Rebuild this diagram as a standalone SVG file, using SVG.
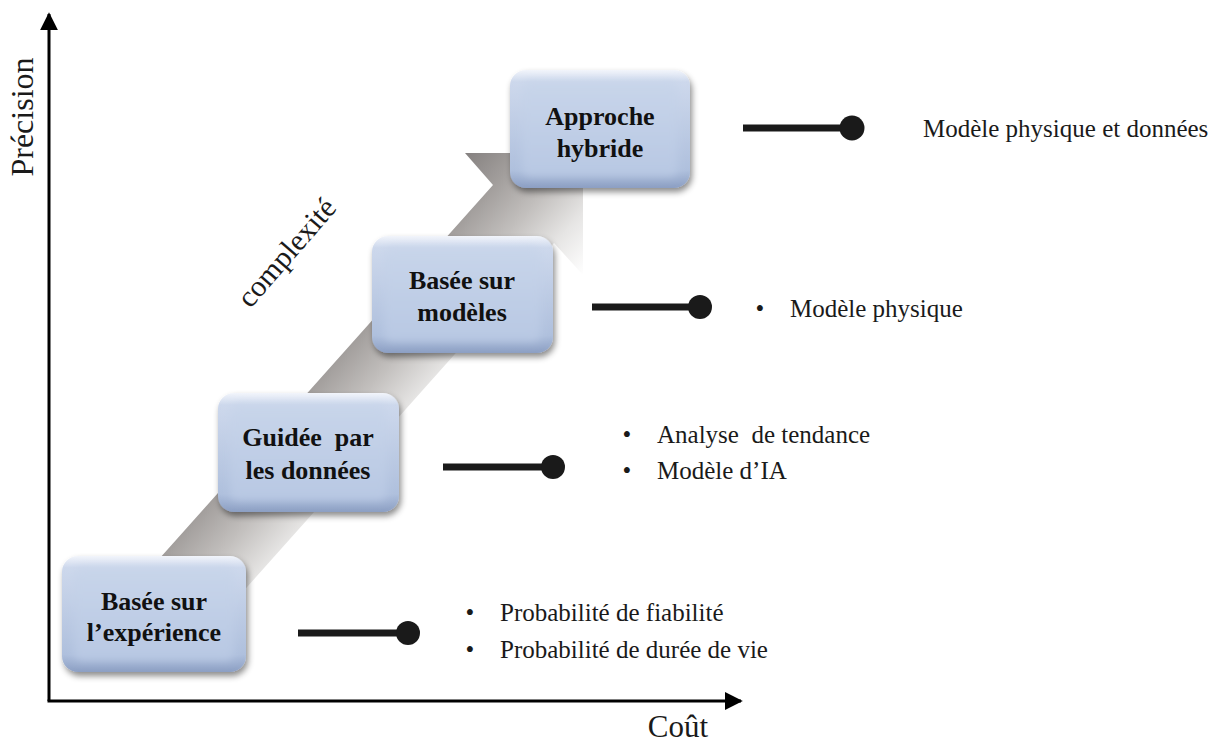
<svg xmlns="http://www.w3.org/2000/svg" width="1229" height="743" viewBox="0 0 1229 743">
<defs>
  <linearGradient id="bandGrad" gradientUnits="userSpaceOnUse" x1="462" y1="157" x2="588" y2="270">
    <stop offset="0" stop-color="#858180"/>
    <stop offset="0.25" stop-color="#a29e9c"/>
    <stop offset="0.5" stop-color="#c2bfbd"/>
    <stop offset="0.75" stop-color="#e6e5e4"/>
    <stop offset="1" stop-color="#ffffff"/>
  </linearGradient>
  <linearGradient id="bevelGrad" x1="0" y1="0" x2="0" y2="1">
    <stop offset="0" stop-color="#f2f5fb"/>
    <stop offset="0.1" stop-color="#cdd8ec"/>
    <stop offset="0.85" stop-color="#afc0dd"/>
    <stop offset="1" stop-color="#8c9fc3"/>
  </linearGradient>
  <linearGradient id="faceGrad" x1="0" y1="0" x2="0" y2="1">
    <stop offset="0" stop-color="#c8d5ea"/>
    <stop offset="1" stop-color="#b8c8e3"/>
  </linearGradient>
  <filter id="shadow" x="-10%" y="-10%" width="125%" height="130%">
    <feDropShadow dx="2" dy="4" stdDeviation="3" flood-color="#000" flood-opacity="0.45"/>
  </filter>
  <filter id="soft" x="-10%" y="-10%" width="120%" height="120%">
    <feGaussianBlur stdDeviation="4"/>
  </filter>
  <marker id="axisArrow" viewBox="0 0 10 10" refX="9" refY="5" markerWidth="6" markerHeight="6" markerUnits="strokeWidth" orient="auto">
    <path d="M0,0 L10,5 L0,10 z" fill="#000"/>
  </marker>
  <style>
    .box { fill: url(#bevelGrad); filter: url(#shadow); }
    .face { fill: url(#faceGrad); filter: url(#soft); }
    .boxtxt { font-family: "Liberation Serif", "Times New Roman", serif; font-weight: bold; font-size: 26px; fill: #111; text-anchor: middle; }
    .lbl { font-family: "Liberation Serif", "Times New Roman", serif; font-size: 25px; fill: #1a1a1a; }
    .axislbl { font-family: "Liberation Serif", "Times New Roman", serif; font-size: 32px; fill: #1a1a1a; }
    .axis { stroke: #000; stroke-width: 3; fill: none; }
    .conn { stroke: #1a1a1a; stroke-width: 7; fill: none; }
    .dot { fill: #1a1a1a; }
  </style>
</defs>
<rect width="1229" height="743" fill="#ffffff"/>

<g id="progression-arrow">
  <polygon points="583,153 465,153 493,185 113.5,610 191,650 554,243 583,275" fill="url(#bandGrad)"/>
  <text class="axislbl" style="font-size:30px" x="294" y="259" text-anchor="middle" transform="rotate(-49 294 259)">complexité</text>
</g>

<g id="axes">
  <line class="axis" x1="49" y1="701" x2="49" y2="14" marker-end="url(#axisArrow)"/>
  <line class="axis" x1="47.5" y1="701" x2="741" y2="701" marker-end="url(#axisArrow)"/>
  <text class="axislbl" x="33" y="117" text-anchor="middle" transform="rotate(-90 33 117)">Précision</text>
  <text class="axislbl" x="678" y="737" text-anchor="middle" style="font-size:31px">Coût</text>
</g>

<g id="node-experience">
  <rect class="box" x="62" y="556" width="184" height="116" rx="16"/>
  <rect class="face" x="74" y="568" width="160" height="92" rx="8"/>
  <text class="boxtxt" x="154" y="610">Basée sur</text>
  <text class="boxtxt" x="154" y="641">l’expérience</text>
</g>

<g id="node-donnees">
  <rect class="box" x="218" y="393" width="181" height="119" rx="16"/>
  <rect class="face" x="230" y="405" width="157" height="95" rx="8"/>
  <text class="boxtxt" x="308" y="446" xml:space="preserve">Guidée  par</text>
  <text class="boxtxt" x="308" y="479">les données</text>
</g>

<g id="node-modeles">
  <rect class="box" x="372" y="236" width="181" height="117" rx="16"/>
  <rect class="face" x="384" y="248" width="157" height="93" rx="8"/>
  <text class="boxtxt" x="462" y="289">Basée sur</text>
  <text class="boxtxt" x="462" y="321">modèles</text>
</g>

<g id="node-hybride">
  <rect class="box" x="510" y="70" width="180" height="118" rx="16"/>
  <rect class="face" x="522" y="82" width="156" height="94" rx="8"/>
  <text class="boxtxt" x="600" y="125">Approche</text>
  <text class="boxtxt" x="600" y="157">hybride</text>
</g>

<g id="connectors">
  <line class="conn" x1="298" y1="633" x2="408" y2="633"/>
  <circle class="dot" cx="408" cy="633" r="12"/>
  <line class="conn" x1="443" y1="467" x2="553" y2="467"/>
  <circle class="dot" cx="553" cy="467" r="12"/>
  <line class="conn" x1="592" y1="307" x2="700" y2="307"/>
  <circle class="dot" cx="700" cy="307" r="12"/>
  <line class="conn" x1="743" y1="128" x2="852" y2="128"/>
  <circle class="dot" cx="852" cy="128" r="12.5"/>
</g>

<g id="label-experience">
  <text class="lbl" x="470" y="621" text-anchor="middle">•</text>
  <text class="lbl" x="500" y="621">Probabilité de fiabilité</text>
  <text class="lbl" x="470" y="658" text-anchor="middle">•</text>
  <text class="lbl" x="500" y="658">Probabilité de durée de vie</text>
</g>

<g id="label-donnees">
  <text class="lbl" x="627" y="443" text-anchor="middle">•</text>
  <text class="lbl" x="657" y="443" xml:space="preserve">Analyse  de tendance</text>
  <text class="lbl" x="627" y="479" text-anchor="middle">•</text>
  <text class="lbl" x="657" y="479">Modèle d’IA</text>
</g>

<g id="label-modeles">
  <text class="lbl" x="760" y="317" text-anchor="middle">•</text>
  <text class="lbl" x="790" y="317">Modèle physique</text>
</g>

<g id="label-hybride">
  <text class="lbl" x="923" y="137">Modèle physique et données</text>
</g>
</svg>
